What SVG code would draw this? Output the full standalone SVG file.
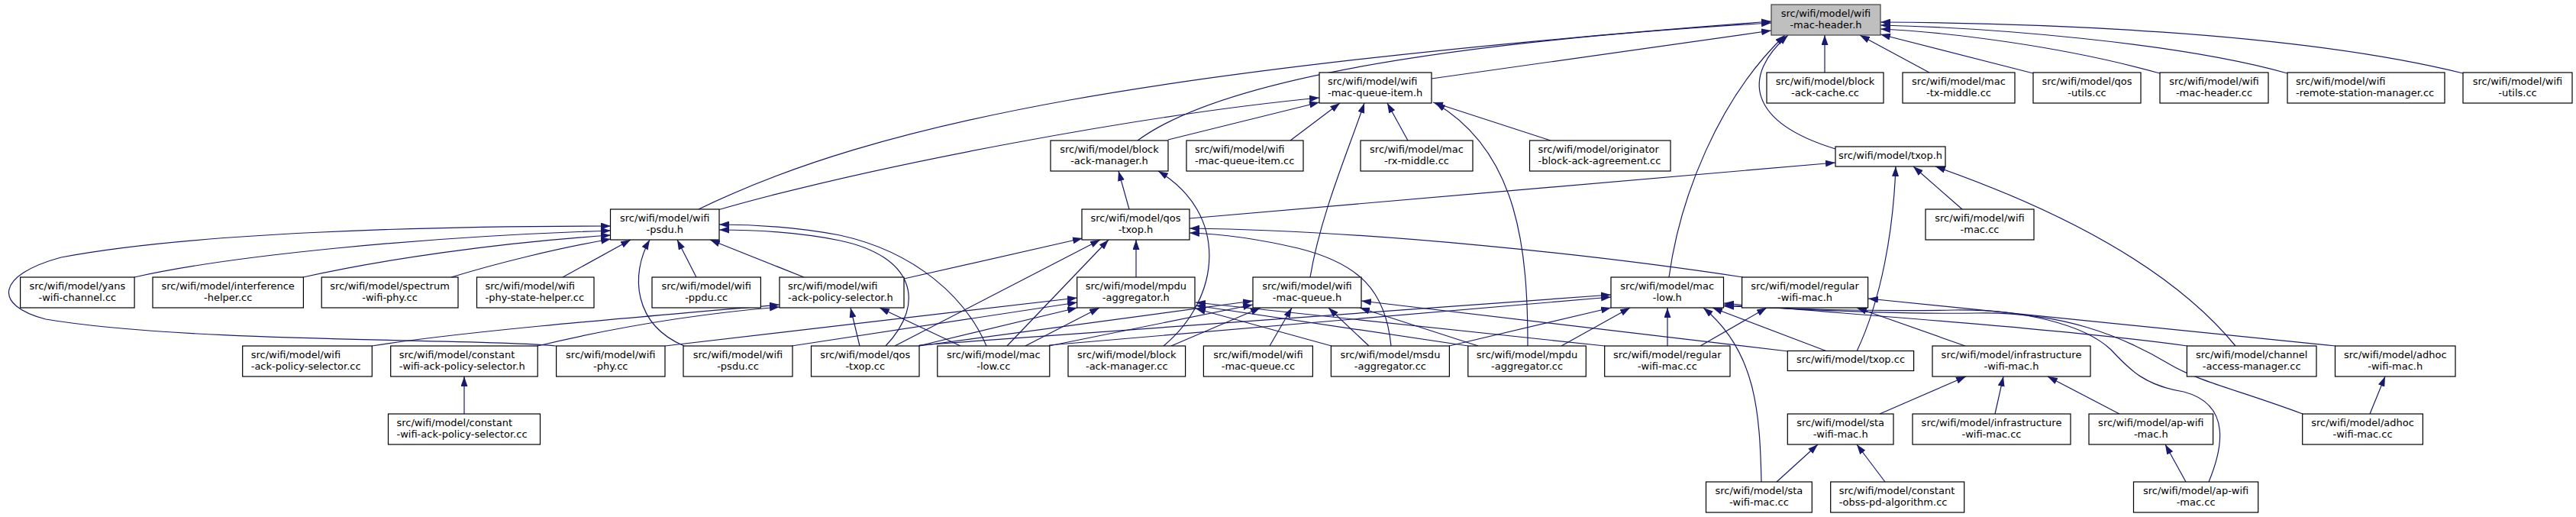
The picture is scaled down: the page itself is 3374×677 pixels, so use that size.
<svg xmlns="http://www.w3.org/2000/svg" width="3374" height="677" viewBox="0 0 3374 677">
<style>
.n rect{fill:#fff;stroke:#000;stroke-width:1.2}
.n text{font-family:"DejaVu Sans","Liberation Sans",sans-serif;font-size:13px;fill:#000}
.n .c{text-anchor:middle}
#root rect{fill:#bfbfbf;stroke:#404040}
.e path{fill:none;stroke:#191970;stroke-width:1.2;marker-end:url(#ah)}
</style>
<defs>
<marker id="ah" viewBox="0 0 13 9" refX="13" refY="4.5" markerWidth="13" markerHeight="9" markerUnits="userSpaceOnUse" orient="auto"><path d="M0,0L13,4.5L0,9z" fill="#191970"/></marker>
</defs>
<rect width="3374" height="677" fill="#fff"/>
<g id="connectors" class="e">
<path d="M1875,103 L2320,40"/>
<path d="M1490,184 C1570,125 1780,62 2320,30"/>
<path d="M915,274 C1150,160 1500,90 2320,28"/>
<path d="M2404,195 C2290,160 2280,100 2342,46"/>
<path d="M2186,363 C2200,260 2250,130 2338,46"/>
<path d="M2390,95 L2390,46"/>
<path d="M2527,95 L2436,46"/>
<path d="M2663,96 L2463,45"/>
<path d="M2829,96 C2700,60 2550,42 2463,38"/>
<path d="M2996,96 C2850,55 2600,36 2463,33"/>
<path d="M3226,96 C3000,40 2650,30 2463,29"/>
<path d="M940,275 C1150,215 1500,150 1728,128"/>
<path d="M1530,183 L1728,134"/>
<path d="M1690,184 L1755,135"/>
<path d="M1716,363 C1730,280 1765,200 1787,135"/>
<path d="M1844,184 L1817,135"/>
<path d="M2031,184 L1877,134"/>
<path d="M2001,453 C2001,330 1990,200 1880,135"/>
<path d="M1479,274 L1465,224"/>
<path d="M1524,453 C1600,390 1610,280 1517,224"/>
<path d="M1558,286 L2404,213"/>
<path d="M2432,460 C2465,390 2480,300 2483,218"/>
<path d="M2570,274 L2506,218"/>
<path d="M2928,453 C2860,370 2740,290 2535,218"/>
<path d="M176,363 C300,335 550,310 800,302"/>
<path d="M397,363 C500,340 650,318 800,308"/>
<path d="M591,363 C650,345 730,325 800,313"/>
<path d="M737,363 L826,314"/>
<path d="M728,453 C650,443 250,450 60,418 C-10,400 -5,360 80,337 C250,305 550,296 800,296"/>
<path d="M912,363 L887,314"/>
<path d="M1053,363 L930,314"/>
<path d="M896,453 C830,425 825,360 851,314"/>
<path d="M1160,453 C1215,395 1195,335 1100,315 C1050,305 990,301 942,301"/>
<path d="M1292,453 C1265,390 1200,330 1100,308 C1040,297 990,294 942,294"/>
<path d="M1184,365 L1418,312"/>
<path d="M1172,453 L1441,314"/>
<path d="M1319,453 L1452,314"/>
<path d="M1488,363 L1488,314"/>
<path d="M2283,363 C2100,335 1800,302 1558,299"/>
<path d="M1822,453 C1815,380 1780,345 1700,325 C1640,311 1590,306 1558,305"/>
<path d="M487,453 C600,435 800,418 1021,399"/>
<path d="M704,453 C800,430 900,412 1021,402"/>
<path d="M1126,453 L1114,403"/>
<path d="M1258,453 L1152,403"/>
<path d="M871,453 L1411,390"/>
<path d="M1037,453 L1411,396"/>
<path d="M1203,453 L1411,403"/>
<path d="M1343,453 L1440,403"/>
<path d="M1744,453 L1566,404"/>
<path d="M2102,453 L1566,396"/>
<path d="M1923,453 L1566,400"/>
<path d="M1204,453 L1641,394"/>
<path d="M1374,453 L1641,399"/>
<path d="M1534,453 L1651,403"/>
<path d="M1663,453 L1692,403"/>
<path d="M1793,453 L1740,403"/>
<path d="M1936,453 L1781,403"/>
<path d="M2342,460 L1783,394"/>
<path d="M1204,452 L2110,386"/>
<path d="M1374,452 L2110,389"/>
<path d="M1898,453 L2110,403"/>
<path d="M2045,453 L2135,403"/>
<path d="M2184,453 L2184,403"/>
<path d="M2307,631 C2305,540 2300,460 2231,403"/>
<path d="M2393,460 L2243,403"/>
<path d="M2865,453 C2700,430 2400,410 2258,397"/>
<path d="M2893,631 C2910,590 2925,530 2860,513 C2810,505 2790,485 2765,458 C2730,425 2650,405 2560,406 C2450,408 2330,405 2258,399"/>
<path d="M3016,542 C2930,510 2880,500 2840,476 C2780,440 2700,408 2590,410 C2450,412 2330,402 2258,401"/>
<path d="M2227,453 L2314,403"/>
<path d="M2574,453 L2432,403"/>
<path d="M3059,453 L2447,391"/>
<path d="M2462,542 L2575,493"/>
<path d="M2613,542 L2624,493"/>
<path d="M2776,542 L2682,493"/>
<path d="M3104,542 L3124,493"/>
<path d="M2863,631 L2836,582"/>
<path d="M2327,631 L2381,582"/>
<path d="M2469,631 L2432,582"/>
<path d="M608,542 L608,493"/>
</g>
<g id="root" class="n"><rect x="2320" y="6" width="143" height="40"/><text class="c" x="2391.5" y="22">src/wifi/model/wifi</text><text class="c" x="2391.5" y="37">-mac-header.h</text></g>
<g id="mac-queue-item-h" class="n"><rect x="1728" y="95" width="147" height="40"/><text x="1739" y="111">src/wifi/model/wifi</text><text x="1739" y="126">-mac-queue-item.h</text></g>
<g id="block-ack-cache-cc" class="n"><rect x="2314" y="95" width="153" height="40"/><text class="c" x="2390.5" y="111">src/wifi/model/block</text><text class="c" x="2390.5" y="126">-ack-cache.cc</text></g>
<g id="mac-tx-middle-cc" class="n"><rect x="2492" y="95" width="147" height="40"/><text class="c" x="2565.5" y="111">src/wifi/model/mac</text><text class="c" x="2565.5" y="126">-tx-middle.cc</text></g>
<g id="qos-utils-cc" class="n"><rect x="2663" y="95" width="141" height="40"/><text class="c" x="2733.5" y="111">src/wifi/model/qos</text><text class="c" x="2733.5" y="126">-utils.cc</text></g>
<g id="wifi-mac-header-cc" class="n"><rect x="2829" y="95" width="142" height="40"/><text class="c" x="2900" y="111">src/wifi/model/wifi</text><text class="c" x="2900" y="126">-mac-header.cc</text></g>
<g id="remote-station-manager-cc" class="n"><rect x="2996" y="95" width="206" height="40"/><text x="3007" y="111">src/wifi/model/wifi</text><text x="3007" y="126">-remote-station-manager.cc</text></g>
<g id="wifi-utils-cc" class="n"><rect x="3226" y="95" width="143" height="40"/><text class="c" x="3297.5" y="111">src/wifi/model/wifi</text><text class="c" x="3297.5" y="126">-utils.cc</text></g>
<g id="block-ack-manager-h" class="n"><rect x="1376" y="184" width="154" height="40"/><text class="c" x="1453" y="200">src/wifi/model/block</text><text class="c" x="1453" y="215">-ack-manager.h</text></g>
<g id="mac-queue-item-cc" class="n"><rect x="1554" y="184" width="153" height="40"/><text x="1565" y="200">src/wifi/model/wifi</text><text x="1565" y="215">-mac-queue-item.cc</text></g>
<g id="mac-rx-middle-cc" class="n"><rect x="1782" y="184" width="147" height="40"/><text class="c" x="1855.5" y="200">src/wifi/model/mac</text><text class="c" x="1855.5" y="215">-rx-middle.cc</text></g>
<g id="originator-cc" class="n"><rect x="2003.5" y="184" width="184.5" height="40"/><text x="2014.5" y="200">src/wifi/model/originator</text><text x="2014.5" y="215">-block-ack-agreement.cc</text></g>
<g id="txop-h" class="n"><rect x="2404" y="192" width="144" height="26"/><text class="c" x="2476" y="207.5">src/wifi/model/txop.h</text></g>
<g id="wifi-psdu-h" class="n"><rect x="799.5" y="274" width="142.5" height="40"/><text class="c" x="870.75" y="290">src/wifi/model/wifi</text><text class="c" x="870.75" y="305">-psdu.h</text></g>
<g id="qos-txop-h" class="n"><rect x="1417" y="274" width="141" height="40"/><text class="c" x="1487.5" y="290">src/wifi/model/qos</text><text class="c" x="1487.5" y="305">-txop.h</text></g>
<g id="wifi-mac-cc" class="n"><rect x="2522" y="274" width="142" height="40"/><text class="c" x="2593" y="290">src/wifi/model/wifi</text><text class="c" x="2593" y="305">-mac.cc</text></g>
<g id="yans-cc" class="n"><rect x="26.6" y="363" width="149.5" height="40"/><text class="c" x="101.35" y="379">src/wifi/model/yans</text><text class="c" x="101.35" y="394">-wifi-channel.cc</text></g>
<g id="interference-cc" class="n"><rect x="200" y="363" width="197.4" height="40"/><text class="c" x="298.7" y="379">src/wifi/model/interference</text><text class="c" x="298.7" y="394">-helper.cc</text></g>
<g id="spectrum-cc" class="n"><rect x="421.2" y="363" width="178.8" height="40"/><text class="c" x="510.6" y="379">src/wifi/model/spectrum</text><text class="c" x="510.6" y="394">-wifi-phy.cc</text></g>
<g id="phy-state-helper-cc" class="n"><rect x="624.5" y="363" width="153.5" height="40"/><text x="635.5" y="379">src/wifi/model/wifi</text><text x="635.5" y="394">-phy-state-helper.cc</text></g>
<g id="wifi-ppdu-cc" class="n"><rect x="854" y="363" width="142.4" height="40"/><text class="c" x="925.2" y="379">src/wifi/model/wifi</text><text class="c" x="925.2" y="394">-ppdu.cc</text></g>
<g id="ack-policy-selector-h" class="n"><rect x="1021" y="363" width="163" height="40"/><text x="1032" y="379">src/wifi/model/wifi</text><text x="1032" y="394">-ack-policy-selector.h</text></g>
<g id="mpdu-aggregator-h" class="n"><rect x="1410.7" y="363" width="154.3" height="40"/><text class="c" x="1487.85" y="379">src/wifi/model/mpdu</text><text class="c" x="1487.85" y="394">-aggregator.h</text></g>
<g id="wifi-mac-queue-h" class="n"><rect x="1641" y="363" width="142" height="40"/><text class="c" x="1712" y="379">src/wifi/model/wifi</text><text class="c" x="1712" y="394">-mac-queue.h</text></g>
<g id="mac-low-h" class="n"><rect x="2110" y="363" width="147.5" height="40"/><text class="c" x="2183.75" y="379">src/wifi/model/mac</text><text class="c" x="2183.75" y="394">-low.h</text></g>
<g id="regular-wifi-mac-h" class="n"><rect x="2281.6" y="363" width="165" height="40"/><text class="c" x="2364.1" y="379">src/wifi/model/regular</text><text class="c" x="2364.1" y="394">-wifi-mac.h</text></g>
<g id="ack-policy-selector-cc" class="n"><rect x="317.7" y="453" width="169.6" height="40"/><text x="328.7" y="469">src/wifi/model/wifi</text><text x="328.7" y="484">-ack-policy-selector.cc</text></g>
<g id="constant-ack-policy-selector-h" class="n"><rect x="511.7" y="453" width="192.5" height="40"/><text x="522.7" y="469">src/wifi/model/constant</text><text x="522.7" y="484">-wifi-ack-policy-selector.h</text></g>
<g id="wifi-phy-cc" class="n"><rect x="728.6" y="453" width="142.4" height="40"/><text class="c" x="799.8" y="469">src/wifi/model/wifi</text><text class="c" x="799.8" y="484">-phy.cc</text></g>
<g id="wifi-psdu-cc" class="n"><rect x="895" y="453" width="143" height="40"/><text class="c" x="966.5" y="469">src/wifi/model/wifi</text><text class="c" x="966.5" y="484">-psdu.cc</text></g>
<g id="qos-txop-cc" class="n"><rect x="1062.5" y="453" width="141.5" height="40"/><text class="c" x="1133.25" y="469">src/wifi/model/qos</text><text class="c" x="1133.25" y="484">-txop.cc</text></g>
<g id="mac-low-cc" class="n"><rect x="1227.8" y="453" width="147" height="40"/><text class="c" x="1301.3" y="469">src/wifi/model/mac</text><text class="c" x="1301.3" y="484">-low.cc</text></g>
<g id="block-ack-manager-cc" class="n"><rect x="1399" y="453" width="153.6" height="40"/><text class="c" x="1475.8" y="469">src/wifi/model/block</text><text class="c" x="1475.8" y="484">-ack-manager.cc</text></g>
<g id="wifi-mac-queue-cc" class="n"><rect x="1576.4" y="453" width="143" height="40"/><text class="c" x="1647.9" y="469">src/wifi/model/wifi</text><text class="c" x="1647.9" y="484">-mac-queue.cc</text></g>
<g id="msdu-aggregator-cc" class="n"><rect x="1743.4" y="453" width="155" height="40"/><text class="c" x="1820.9" y="469">src/wifi/model/msdu</text><text class="c" x="1820.9" y="484">-aggregator.cc</text></g>
<g id="mpdu-aggregator-cc" class="n"><rect x="1922.8" y="453" width="154.5" height="40"/><text class="c" x="2000.05" y="469">src/wifi/model/mpdu</text><text class="c" x="2000.05" y="484">-aggregator.cc</text></g>
<g id="regular-wifi-mac-cc" class="n"><rect x="2101.7" y="453" width="164.3" height="40"/><text class="c" x="2183.85" y="469">src/wifi/model/regular</text><text class="c" x="2183.85" y="484">-wifi-mac.cc</text></g>
<g id="txop-cc" class="n"><rect x="2341.3" y="459.5" width="165.3" height="26"/><text class="c" x="2424" y="475">src/wifi/model/txop.cc</text></g>
<g id="infrastructure-wifi-mac-h" class="n"><rect x="2531" y="453" width="207" height="40"/><text class="c" x="2634.5" y="469">src/wifi/model/infrastructure</text><text class="c" x="2634.5" y="484">-wifi-mac.h</text></g>
<g id="channel-access-manager-cc" class="n"><rect x="2864.4" y="453" width="169.6" height="40"/><text class="c" x="2949.2" y="469">src/wifi/model/channel</text><text class="c" x="2949.2" y="484">-access-manager.cc</text></g>
<g id="adhoc-wifi-mac-h" class="n"><rect x="3058.5" y="453" width="157.5" height="40"/><text class="c" x="3137.25" y="469">src/wifi/model/adhoc</text><text class="c" x="3137.25" y="484">-wifi-mac.h</text></g>
<g id="constant-ack-policy-selector-cc" class="n"><rect x="508.5" y="542" width="199" height="40"/><text x="519.5" y="558">src/wifi/model/constant</text><text x="519.5" y="573">-wifi-ack-policy-selector.cc</text></g>
<g id="sta-wifi-mac-h" class="n"><rect x="2341.3" y="542" width="138.7" height="40"/><text class="c" x="2410.65" y="558">src/wifi/model/sta</text><text class="c" x="2410.65" y="573">-wifi-mac.h</text></g>
<g id="infrastructure-wifi-mac-cc" class="n"><rect x="2505" y="542" width="207" height="40"/><text class="c" x="2608.5" y="558">src/wifi/model/infrastructure</text><text class="c" x="2608.5" y="573">-wifi-mac.cc</text></g>
<g id="ap-wifi-mac-h" class="n"><rect x="2736" y="542" width="162.6" height="40"/><text class="c" x="2817.3" y="558">src/wifi/model/ap-wifi</text><text class="c" x="2817.3" y="573">-mac.h</text></g>
<g id="adhoc-wifi-mac-cc" class="n"><rect x="3015.7" y="542" width="157.7" height="40"/><text class="c" x="3094.55" y="558">src/wifi/model/adhoc</text><text class="c" x="3094.55" y="573">-wifi-mac.cc</text></g>
<g id="sta-wifi-mac-cc" class="n"><rect x="2234.5" y="631" width="138.8" height="40"/><text class="c" x="2303.9" y="647">src/wifi/model/sta</text><text class="c" x="2303.9" y="662">-wifi-mac.cc</text></g>
<g id="obss-pd-algorithm-cc" class="n"><rect x="2397.7" y="631" width="175" height="40"/><text x="2408.7" y="647">src/wifi/model/constant</text><text x="2408.7" y="662">-obss-pd-algorithm.cc</text></g>
<g id="ap-wifi-mac-cc" class="n"><rect x="2794.5" y="631" width="163.2" height="40"/><text class="c" x="2876.1" y="647">src/wifi/model/ap-wifi</text><text class="c" x="2876.1" y="662">-mac.cc</text></g>
</svg>
